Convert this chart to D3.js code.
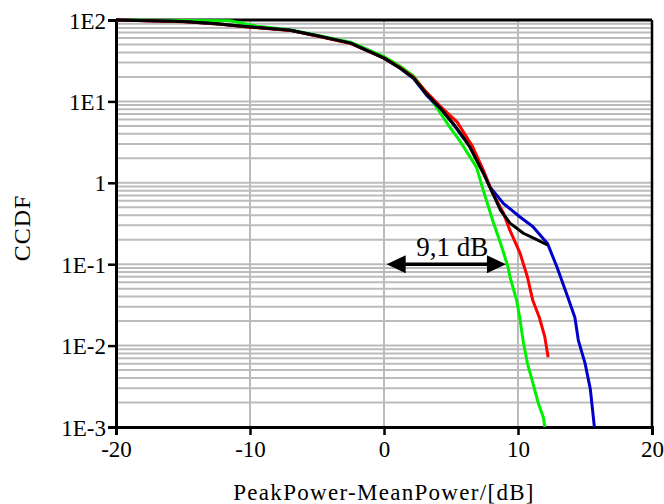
<!DOCTYPE html>
<html>
<head>
<meta charset="utf-8">
<script src="https://cdn.jsdelivr.net/npm/d3@7"></script>
<style>
  body { margin: 0; background: #fff; }
  text { font-family: "Liberation Serif", "DejaVu Serif", serif; fill: #000; }
</style>
</head>
<body>
<div id="chart"></div>
<script>
// x values in dB, y values are CCDF (%)
var greenX = [-20, -11.5, -9.5, -7, -5, -2.5, 0, 1.2, 2.2, 3.2, 4.2, 5.0, 5.7, 6.9, 7.4, 8.1, 8.7, 9.25, 9.4, 9.9, 10.15, 10.4, 10.7, 11.1, 11.5, 11.9, 12.0];
var greenY = [100, 98, 84, 76, 65, 53.5, 35.5, 27, 20.5, 12.5, 7.2, 4.6, 3.2, 1.56, 0.82, 0.35, 0.18, 0.093, 0.07, 0.036, 0.021, 0.011, 0.0061, 0.0035, 0.002, 0.0013, 0.001];

var redX = [-20, -15, -12, -10, -7, -5, -2.5, 0, 1.2, 2.2, 3.2, 4.2, 5.45, 6.6, 7.4, 8.1, 8.9, 9.4, 10.15, 10.7, 11.1, 11.6, 12.0, 12.25];
var redY = [100, 95.5, 88, 81.5, 74.5, 63.5, 51.5, 34, 26, 19.8, 12.8, 8.7, 5.6, 2.8, 1.44, 0.75, 0.43, 0.26, 0.137, 0.07, 0.036, 0.022, 0.0128, 0.0072];

var blueX = [-20, -15, -12.5, -10, -7, -5, -2.5, 0, 1.2, 2.2, 3.2, 4.2, 5.15, 5.9, 6.6, 7.4, 7.9, 8.9, 10.15, 11.1, 12.2, 12.9, 13.7, 14.25, 14.5, 15.0, 15.4, 15.7];
var blueY = [100, 96, 90, 82, 75, 64, 52, 34, 25.5, 19.2, 11.8, 8.2, 5.3, 3.6, 2.6, 1.4, 0.89, 0.56, 0.38, 0.29, 0.18, 0.093, 0.04, 0.022, 0.0117, 0.0061, 0.0029, 0.001];

var blackX = [-20, -15, -12.5, -10, -7, -5, -2.5, 0, 1.2, 2.2, 3.2, 4.2, 5.15, 5.9, 6.4, 7.4, 8.1, 8.7, 9.4, 10.4, 11.4, 12.2];
var blackY = [100, 96, 90, 82, 75, 64, 52, 34, 25.7, 19.4, 12.2, 8.3, 5.4, 3.66, 2.75, 1.32, 0.75, 0.46, 0.32, 0.24, 0.2, 0.172];

var xTicks = [-20, -10, 0, 10, 20];
var yTicks = [1e-3, 1e-2, 1e-1, 1, 10, 100];
var yTickLabels = ["1E-3", "1E-2", "1E-1", "1", "1E1", "1E2"];

var arrowX = [0.2, 9.1];
var arrowY = 0.1;
var arrowLabel = "9,1 dB";

var margin = { top: 20, right: 12, bottom: 77, left: 116 },
    width = 664 - margin.left - margin.right,
    height = 504 - margin.top - margin.bottom;

var svg = d3
    .select("#chart")
    .append("svg")
    .attr("width", 664)
    .attr("height", 504)
    .append("g")
    .attr("transform", "translate(" + margin.left + "," + margin.top + ")");

var x = d3.scaleLinear().domain([-20, 20]).range([0, width]);
var y = d3.scaleLog().domain([1e-3, 100]).range([height, 0]);

// grid
var minor = [];
for (var k = -3; k < 2; k++) {
    for (var m = 1; m <= 9; m++) minor.push(m * Math.pow(10, k));
}
svg.append("g")
    .selectAll("line")
    .data(minor)
    .enter()
    .append("line")
    .attr("x1", 0)
    .attr("x2", width)
    .attr("y1", function (d) { return y(d); })
    .attr("y2", function (d) { return y(d); })
    .style("stroke", "#bbb")
    .style("stroke-width", 2);

svg.append("g")
    .selectAll("line")
    .data([-10, 0, 10])
    .enter()
    .append("line")
    .attr("x1", function (d) { return x(d); })
    .attr("x2", function (d) { return x(d); })
    .attr("y1", 0)
    .attr("y2", height)
    .style("stroke", "#bbb")
    .style("stroke-width", 2);

// axes
var xAxis = svg.append("g")
    .attr("transform", "translate(0," + height + ")")
    .call(d3.axisBottom(x).tickValues(xTicks).tickSize(8).tickPadding(6)
        .tickFormat(function (d) { return String(d); }));

var yAxis = svg.append("g")
    .call(d3.axisLeft(y).tickValues(yTicks).tickSize(8).tickPadding(2)
        .tickFormat(function (d, i) { return yTickLabels[i]; }));

[xAxis, yAxis].forEach(function (a) {
    a.select(".domain").style("stroke", "#000").style("stroke-width", 3);
    a.selectAll(".tick line").style("stroke", "#000").style("stroke-width", 2.5);
    a.selectAll(".tick text").style("font-size", "23px").style("font-family", "Liberation Serif");
});
yAxis.selectAll(".tick text").attr("dy", "0.35em");

// frame top / right
svg.append("line").attr("x1", 0).attr("x2", width).attr("y1", 0).attr("y2", 0)
    .style("stroke", "#000").style("stroke-width", 3);
svg.append("line").attr("x1", width).attr("x2", width).attr("y1", 0).attr("y2", height)
    .style("stroke", "#000").style("stroke-width", 2.5);

// curves
var line = d3.line()
    .x(function (d) { return x(d[0]); })
    .y(function (d) { return y(d[1]); });

var series = [
    { xs: greenX, ys: greenY, color: "#00f000" },
    { xs: blueX, ys: blueY, color: "#0000c8" },
    { xs: redX, ys: redY, color: "#ff0000" },
    { xs: blackX, ys: blackY, color: "#000000" }
];

series.forEach(function (s) {
    svg.append("path")
        .datum(d3.zip(s.xs, s.ys))
        .attr("d", line)
        .style("fill", "none")
        .style("stroke", s.color)
        .style("stroke-width", 3)
        .style("stroke-linejoin", "round");
});

// arrow
var ax0 = x(arrowX[0]), ax1 = x(arrowX[1]), ay = y(arrowY);
svg.append("line")
    .attr("x1", ax0 + 10).attr("x2", ax1 - 10)
    .attr("y1", ay).attr("y2", ay)
    .style("stroke", "#000").style("stroke-width", 3.5);
svg.append("path")
    .attr("d", "M" + ax0 + "," + ay + "L" + (ax0 + 19) + "," + (ay - 9) + "L" + (ax0 + 19) + "," + (ay + 9) + "Z")
    .style("fill", "#000");
svg.append("path")
    .attr("d", "M" + ax1 + "," + ay + "L" + (ax1 - 19) + "," + (ay - 9) + "L" + (ax1 - 19) + "," + (ay + 9) + "Z")
    .style("fill", "#000");
svg.append("text")
    .attr("x", (ax0 + ax1) / 2 + 6)
    .attr("y", ay - 8)
    .attr("text-anchor", "middle")
    .style("font-size", "27px")
    .text(arrowLabel);

// axis titles
svg.append("text")
    .attr("text-anchor", "middle")
    .attr("x", width / 2)
    .attr("y", height + 73)
    .style("font-size", "23px")
    .style("letter-spacing", "1.3px")
    .text("PeakPower-MeanPower/[dB]");

svg.append("text")
    .attr("text-anchor", "middle")
    .attr("transform", "rotate(-90)")
    .attr("x", -208)
    .attr("y", -margin.left + 30)
    .style("font-size", "24px")
    .style("letter-spacing", "1px")
    .text("CCDF");
</script>
</body>
</html>
